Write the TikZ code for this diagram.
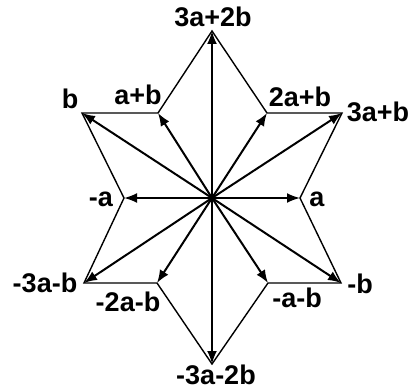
\documentclass[tikz,border=0pt]{standalone}
\usepackage{fontspec}
\setmainfont{Liberation Sans}
\usetikzlibrary{arrows.meta}
\begin{document}
\begin{tikzpicture}[x=1pt,y=-1pt,
  vec/.style={line width=2pt,-{Latex[length=13pt,width=10pt]}},
  edge/.style={line width=1.4pt},
  lbl/.style={inner sep=0pt,font=\fontsize{27}{27}\selectfont\bfseries}]
\useasboundingbox (0,0) rectangle (411,390);
\coordinate (O) at (212,198);
\coordinate (T) at (212,31);
\coordinate (P2ab) at (267,113);
\coordinate (P3ab) at (342,113);
\coordinate (Pa) at (300,198);
\coordinate (Pmb) at (341,283);
\coordinate (Pmamb) at (268,283);
\coordinate (B) at (212,364);
\coordinate (Pm2amb) at (157,283);
\coordinate (Pm3amb) at (84,283);
\coordinate (Pma) at (124,198);
\coordinate (Pb) at (82,113);
\coordinate (Papb) at (158,113);
\draw[edge] (T) -- (P2ab) -- (P3ab) -- (Pa) -- (Pmb) -- (Pmamb) -- (B) -- (Pm2amb) -- (Pm3amb) -- (Pma) -- (Pb) -- (Papb) -- cycle;
\foreach \p in {T,P2ab,P3ab,Pa,Pmb,Pmamb,B,Pm2amb,Pm3amb,Pma,Pb,Papb}
  \draw[vec] (O) -- (\p);
\node[lbl] (l1) at (213,17) {3a+2b};
\node[lbl] (l2) at (70,99) {b};
\node[lbl] (l3) at (138,95) {a+b};
\node[lbl] (l4) at (300,97) {2a+b};
\node[lbl] (l5) at (378,112) {3a+b};
\node[lbl] (l6) at (101,199) {-a};
\node[lbl] (l7) at (317,199) {a};
\node[lbl] (l8) at (45,283) {-3a-b};
\node[lbl] (l9) at (128,302) {-2a-b};
\node[lbl] (l10) at (297,298) {-a-b};
\node[lbl] (l11) at (360,284) {-b};
\node[lbl] (l12) at (216,375) {-3a-2b};
\end{tikzpicture}
\end{document}
